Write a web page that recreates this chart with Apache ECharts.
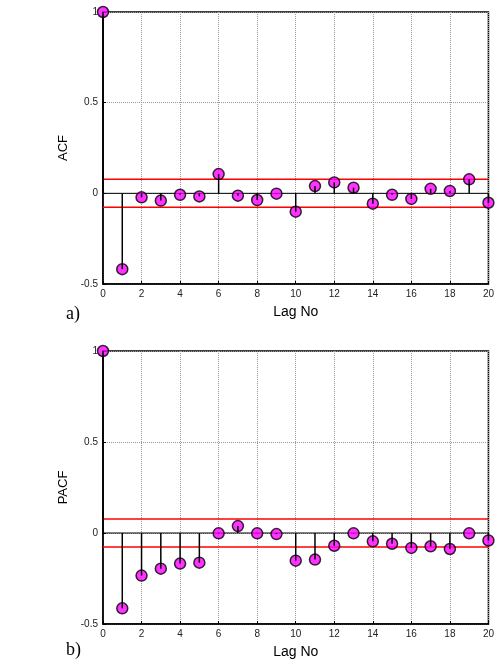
<!DOCTYPE html>
<html><head><meta charset="utf-8">
<script src="https://cdn.jsdelivr.net/npm/echarts@6/dist/echarts.min.js"></script>
<style>html,body{margin:0;padding:0;background:#fff}#c{width:497px;height:662px}</style>
</head><body><div id="c"></div>
<script>
const lags = [0,1,2,3,4,5,6,7,8,9,10,11,12,13,14,15,16,17,18,19,20];
const acf = [1.0,-0.418,-0.022,-0.040,-0.008,-0.017,0.106,-0.013,-0.037,-0.002,-0.101,0.040,0.060,0.031,-0.057,-0.008,-0.031,0.025,0.013,0.077,-0.052];
const pacf = [1.0,-0.414,-0.234,-0.196,-0.168,-0.163,-0.002,0.038,-0.002,-0.006,-0.152,-0.146,-0.070,-0.002,-0.046,-0.059,-0.082,-0.073,-0.088,-0.002,-0.041];
const bound = 0.077;
const yTicks = ['-0.5','0','0.5','1'];
const xName = 'Lag No';
const yNames = ['ACF','PACF'];
const panelLabels = ['a)','b)'];

const chart = echarts.init(document.getElementById('c'));
const grids = [
  {left:103, top:12, width:389, height:272},
  {left:103, top:351, width:389, height:273}
];
const font = 'Liberation Sans, Arial, sans-serif';
function xAx(i){
  return {type:'value', gridIndex:i, min:0, max:20, interval:2,
    name:xName, nameLocation:'middle', nameGap:21,
    nameTextStyle:{fontFamily:font, fontSize:14, color:'#000'},
    axisLine:{show:true, onZero:false, lineStyle:{color:'#000', width:1.5}},
    axisTick:{inside:true, length:3, lineStyle:{color:'#000'}},
    axisLabel:{fontFamily:font, fontSize:10, color:'#222', margin:5},
    splitLine:{show:true, lineStyle:{color:'#999', type:[1,1], width:1}}};
}
function yAx(i){
  return {type:'value', gridIndex:i, min:-0.5, max:1, interval:0.5,
    name:yNames[i], nameLocation:'middle', nameGap:32, nameRotate:90,
    nameTextStyle:{fontFamily:font, fontSize:13, color:'#000'},
    axisLine:{show:true, onZero:false, lineStyle:{color:'#000', width:1.5}},
    axisTick:{inside:true, length:3, lineStyle:{color:'#000'}},
    axisLabel:{fontFamily:font, fontSize:10, color:'#222', margin:5,
      formatter:v=>{const idx=Math.round((v+0.5)/0.5);return yTicks[idx]||'';}},
    splitLine:{show:true, lineStyle:{color:'#999', type:[1,1], width:1}}};
}
function seriesFor(i, vals){
  const pts = lags.map((l,k)=>[l, vals[k]]);
  return [
    {type:'line', xAxisIndex:i, yAxisIndex:i, data:[[0,0],[20,0]], symbol:'none', silent:true,
      lineStyle:{color:'#000', width:1}, z:2},
    {type:'line', xAxisIndex:i, yAxisIndex:i, data:[[0,bound],[20,bound]], symbol:'none', silent:true,
      lineStyle:{color:'#ff0000', width:1.5}, z:3},
    {type:'line', xAxisIndex:i, yAxisIndex:i, data:[[0,-bound],[20,-bound]], symbol:'none', silent:true,
      lineStyle:{color:'#ff0000', width:1.5}, z:3},
    {type:'scatter', xAxisIndex:i, yAxisIndex:i, data:pts, symbol:'circle', symbolSize:11, clip:false, z:5,
      itemStyle:{color:'#ff00ff', borderColor:'#000', borderWidth:1.5}},
    {type:'custom', xAxisIndex:i, yAxisIndex:i, data:pts, z:6, clip:false,
      renderItem:(params, api)=>{
        const p0 = api.coord([api.value(0), 0]);
        const p1 = api.coord([api.value(0), api.value(1)]);
        return {type:'line', shape:{x1:p0[0], y1:p0[1], x2:p1[0], y2:p1[1]},
          style:{stroke:'#000', lineWidth:1.5}};
      }}
  ];
}
chart.setOption({
  animation:false,
  grid: grids.map(g=>Object.assign({show:true, borderColor:'#000', borderWidth:1.5, backgroundColor:'#fff'}, g)),
  xAxis:[xAx(0), xAx(1)],
  yAxis:[yAx(0), yAx(1)],
  series:[...seriesFor(0, acf), ...seriesFor(1, pacf)],
  graphic:[
    {type:'text', left:66, top:305, style:{text:panelLabels[0], font:'18px "Liberation Serif", serif', fill:'#000'}},
    {type:'text', left:66, top:641, style:{text:panelLabels[1], font:'18px "Liberation Serif", serif', fill:'#000'}}
  ]
});
</script></body></html>
